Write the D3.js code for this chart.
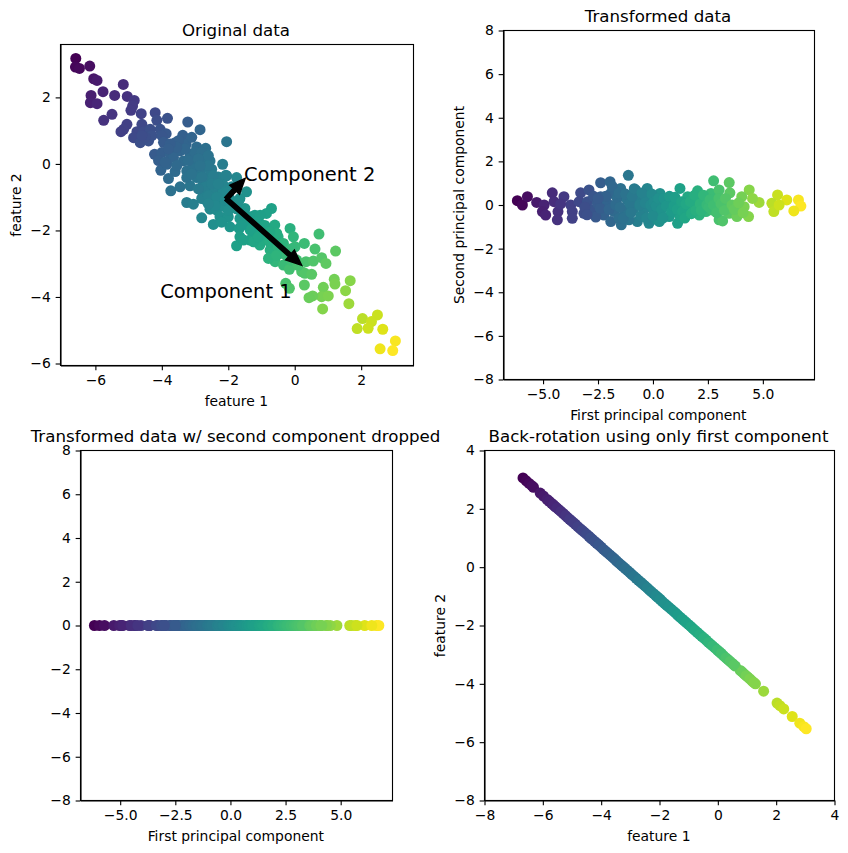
<!DOCTYPE html>
<html>
    <head>
        <meta charset="utf-8">
        <style>
body {
    margin: 0;
    background: #fff;
    font-family: "DejaVu Sans", sans-serif;
}
svg {
    display: block;
}
text {
    fill: #000;
}
.axis text {
    font-size: 13.89px;
    font-family: "DejaVu Sans", sans-serif;
}
.axis path, .axis line {
    stroke: #000;
    stroke-width: 1.11px;
}
.title {
    font-size: 16.67px;
}
.label {
    font-size: 13.89px;
}
.note {
    font-size: 19.44px;
}
        </style>
    </head>
    <body>
<script src="https://d3js.org/d3.v7.min.js"></script>
<script>

// original data
const feature1 = [
    -6.59,-6.60,-6.48,-6.17,-6.05,-5.95,-5.16,-5.77,-6.13,-5.42,-6.15,-5.95,-5.04,-4.83,-4.88,-4.93,
    -4.62,-4.20,-5.50,-5.75,-3.83,-4.15,-4.60,-5.05,-5.15,-5.23,-3.22,-2.85,-3.37,-4.05,-4.75,-4.55,
    -4.35,-3.87,-4.85,-4.65,-4.40,-2.05,-3.60,-3.27,-2.95,-2.68,-4.22,-4.00,-3.75,-3.45,-3.15,-2.75,
    -2.55,-2.17,-4.03,-3.60,-3.80,-3.25,-2.85,-2.50,-3.45,-3.73,-3.15,-2.75,-2.35,-2.05,-1.75,-3.25,
    -3.05,-2.55,-2.75,-2.25,-1.85,-2.65,-2.95,-3.85,-3.65,-3.35,-3.05,-3.25,-2.95,-2.45,-2.65,
    -2.55,-2.30,-2.07,-2.40,-2.15,-1.90,-2.75,-2.45,-2.15,-1.45,-1.65,-2.80,-2.50,-2.25,-2.35,-2.80,
    -2.45,-2.25,-2.00,-1.95,-1.67,-1.75,-1.65,-1.35,-1.20,-1.05,-0.70,-0.85,-0.60,-0.90,-1.05,-0.70,
    -1.35,-1.50,-1.20,-1.65,-0.50,-1.85,-2.10,
    0.73,1.23,0.61,0.29,-0.14,-0.04,0.01,-0.34,-0.54,-0.59,-0.34,-0.16,0.06,0.34,0.56,0.81,0.94,0.21,
    0.31,0.51,-0.27,-0.16,0.29,1.19,1.21,1.67,1.53,0.86,0.81,1.01,0.54,0.43,0.84,1.63,2.04,2.49,2.31,
    2.21,1.88,2.65,3.03,2.57,2.95,-1.44,-1.34,-1.04,-1.54,-1.24,-0.94,-0.74,-1.04,-0.44,-0.79,
    -3.50,-3.10,-3.00,-2.80,-2.60,-3.30,-3.55,-3.20,-2.90,-2.60,-2.85,-3.10,-2.80,-2.45,-2.70,-2.50,
    -2.30,-2.90,-2.60,-2.35,-2.05,-1.95,-1.70,-2.10,-2.40,-2.60,-2.00,-2.20,-1.75,-1.55,-1.40,-1.60,
    -1.15,-1.30,-1.10,-0.90,-0.75,-0.75,-0.50,-0.25,-0.55,-0.10,-0.10,0.10,-4.30,-4.50,-4.60,-4.00,
    -3.95,-3.75,-3.80,-4.10,-3.90,-3.55];
const feature2 = [
    3.17,2.91,2.87,2.94,2.56,2.51,2.39,2.17,2.06,2.06,1.84,1.81,2.03,1.91,1.74,1.61,
    1.51,1.54,1.49,1.31,1.37,1.31,1.19,1.19,1.04,0.97,1.26,1.03,0.86,1.04,0.97,0.97,
    1.04,0.91,0.79,0.64,0.69,0.67,0.64,0.59,0.51,0.47,0.29,0.34,0.29,0.39,0.29,0.14,
    0.09,-0.01,-0.19,-0.23,-0.44,-0.21,-0.21,-0.16,-0.69,-0.81,-0.66,-0.61,-0.61,-0.36,-0.41,-1.16,
    -1.21,-1.36,-0.91,-0.81,-0.71,-0.41,-0.01,-0.01,0.19,0.09,-0.11,-0.41,-0.41,-0.91,-1.11,
    -0.19,-0.39,-0.34,-0.59,-0.64,-0.69,-0.84,-0.84,-0.84,-0.84,-1.04,-1.04,-1.09,-1.19,-1.39,-1.62,
    -1.82,-1.59,-1.59,-1.89,-1.94,-2.46,-2.19,-2.29,-2.04,-1.79,-1.34,-1.49,-1.84,-2.09,-2.44,-2.54,
    -1.59,-1.34,-1.54,-1.64,-2.19,-1.19,-1.29,
    -2.11,-2.62,-2.56,-2.39,-1.94,-2.19,-2.49,-2.39,-2.09,-2.94,-3.04,-3.17,-2.89,-2.94,-2.92,-2.82,-2.99,-3.24,
    -3.29,-3.32,-3.59,-3.74,-3.64,-3.47,-3.61,-3.51,-3.81,-3.71,-3.99,-3.97,-3.97,-4.02,-4.36,-4.20,-4.65,-4.54,-4.74,
    -4.94,-4.95,-4.97,-5.32,-5.56,-5.61,-1.69,-1.99,-1.99,-2.29,-2.34,-2.29,-2.59,-1.54,-2.69,-2.84,
    0.70,0.80,0.35,0.35,0.25,0.45,0.50,0.10,0.15,-0.05,-0.05,-0.30,-0.40,-0.35,-0.70,-0.60,
    -0.60,-0.75,-0.95,-1.00,-0.85,-1.05,-1.15,-1.10,-1.25,-1.20,-1.40,-1.75,-1.35,-1.50,-1.75,-1.85,
    -1.75,-1.95,-2.20,-1.85,-2.05,-2.35,-2.50,-2.75,-2.75,-2.55,-2.90,-3.05,0.85,0.80,0.85,0.85,
    0.65,0.60,0.45,0.10,0.05,-0.05];

// transformed data
const component1 = [
    -6.17,-5.94,-5.71,-5.29,-4.95,-4.58,-5.03,-4.88,-4.32,-4.35,-4.05,-4.50,-3.74,-3.67,-3.67,-3.29,
    -2.91,-3.36,-2.98,-3.14,-2.76,-2.38,-1.95,-1.12,-2.38,-1.92,-1.47,-0.79,-0.26,-2.53,-2.08,-1.62,
    -1.17,-0.71,-0.26,0.12,-2.23,-1.77,-1.32,-0.86,-0.41,0.04,-1.92,-1.44,-0.71,-0.18,0.20,-1.54,-1.09,
    0.32,1.23,2.03,2.76,3.47,4.38,4.83,4.04,4.53,5.67,5.41,6.09,6.62,6.73,6.41,5.50,5.74,0.29,0.29,
    0.74,1.12,1.58,1.05,1.65,2.03,2.41,2.64,3.01,3.50,2.41,2.86,3.32,3.47,3.01,3.17,3.82,4.35,4.15,
    0.74,2.11,0.21,1.20,2.71,1.42,1.88,
    -3.10,-2.70,-2.60,-2.40,-2.15,-2.00,-1.85,-1.70,-1.55,-1.50,-1.35,-1.25,-1.05,-1.00,-0.95,-0.85,
    -0.60,-0.55,-0.50,-0.35,-0.30,-0.10,-0.05,0.00,0.05,0.15,0.25,0.40,0.45,0.50,0.60,0.75,0.85,0.95,
    1.00,1.10,1.30,1.35,1.45,1.50,1.70,1.75,1.90,1.95,2.15,2.20,2.30,2.45,2.55,2.60,2.75,2.90,3.00,
    3.10,3.25,3.30,3.60,3.70,3.90,4.10,-2.50,-3.00,-4.20];
const component2 = [
    0.20,0.00,0.38,0.12,0.00,0.56,-0.30,-0.46,-0.30,-0.68,0.38,0.15,0.00,-0.30,-0.61,0.56,
    0.69,0.15,0.15,-0.38,-0.23,1.02,1.07,1.36,0.38,0.53,0.76,0.69,0.76,0.08,0.08,0.30,
    0.23,0.30,0.30,0.38,-0.46,-0.30,-0.23,-0.15,-0.23,-0.23,-0.76,-0.91,-0.76,-0.84,-0.68,-0.61,-0.68,
    0.53,0.76,0.65,1.11,1.03,0.69,0.12,0.38,0.30,0.46,0.08,0.23,0.23,-0.05,-0.27,-0.30,0.00,0.08,-0.76,
    0.08,-0.84,0.38,0.08,-0.23,0.23,-0.30,0.53,0.69,0.56,0.23,0.15,0.00,-0.38,-0.68,-0.73,-0.53,-0.53,-0.08,
    -0.53,-0.46,-0.38,-0.46,-0.23,0.00,-0.08,
    -0.10,0.40,-0.55,-0.15,0.40,-0.20,0.85,0.00,0.55,-0.10,-0.60,0.50,0.05,-0.35,0.40,0.75,
    0.00,-0.50,0.55,0.10,-0.60,0.00,0.50,-0.50,0.15,-0.05,0.30,-0.20,-0.60,0.30,-0.05,0.40,-0.30,-0.05,
    0.35,-0.20,0.15,-0.30,-0.60,0.05,0.15,-0.40,0.45,-0.25,0.05,-0.25,0.45,0.00,-0.10,0.25,0.00,-0.35,0.30,
    0.05,-0.25,0.30,0.00,-0.20,0.10,-0.35,0.30,-0.45,0.05];

// back-rotated data
const backFeature1 = [
    -6.68,-6.57,-6.47,-6.37,-6.32,-6.09,-5.98,-5.85,-5.70,-5.58,-5.45,-5.30,-5.15,-5.02,-4.88,-4.72,
    -4.58,-4.42,-4.30,-4.15,-4.00,-3.85,-3.70,-3.55,-3.40,-3.25,-3.10,-2.95,-2.80,-2.65,-2.50,-2.35,
    -2.20,-2.05,-1.90,-1.75,-1.60,-1.45,-1.30,-1.15,-1.00,-0.85,-0.70,-0.55,-0.40,-0.25,-0.10,0.05,
    0.20,0.35,0.50,0.60,0.77,0.90,1.03,1.17,1.29,1.57,2.03,2.13,2.26,2.55,2.81,2.95,3.03,
    -5.78,-5.64,-5.52,-5.38,-5.22,-5.08,-4.95,-4.80,-4.65,-4.50,-4.36,-4.22,-4.08,-3.92,-3.78,-3.62,
    -3.48,-3.32,-3.18,-3.02,-2.88,-2.72,-2.58,-2.42,-2.28,-2.12,-1.98,-1.82,-1.68,-1.52,-1.38,-1.22,
    -1.08,-0.92,-0.78,-0.62,-0.48,-0.32,-0.18,-0.02,0.12,0.28,0.42,0.55,0.83,0.97,1.10,1.23];
const backFeature2 = [
    3.06,2.96,2.87,2.79,2.74,2.54,2.44,2.32,2.19,2.08,1.97,1.84,1.70,1.59,1.47,1.32,
    1.20,1.06,0.95,0.82,0.69,0.55,0.42,0.29,0.15,0.02,-0.11,-0.25,-0.38,-0.51,-0.64,-0.78,
    -0.91,-1.04,-1.18,-1.31,-1.44,-1.57,-1.71,-1.84,-1.97,-2.11,-2.24,-2.37,-2.50,-2.64,-2.77,-2.90,
    -3.04,-3.17,-3.30,-3.39,-3.54,-3.66,-3.77,-3.90,-4.00,-4.25,-4.66,-4.75,-4.86,-5.12,-5.35,-5.47,-5.54,
    2.26,2.14,2.03,1.91,1.77,1.64,1.53,1.39,1.26,1.13,1.00,0.88,0.76,0.61,0.49,0.35,
    0.22,0.08,-0.04,-0.18,-0.31,-0.45,-0.57,-0.71,-0.84,-0.98,-1.10,-1.25,-1.37,-1.51,-1.64,-1.78,
    -1.90,-2.04,-2.17,-2.31,-2.43,-2.58,-2.70,-2.84,-2.96,-3.11,-3.23,-3.35,-3.59,-3.72,-3.83,-3.95];

// arrow start and tips in the first panel
const arrowStart = [-2.06, -1.05];
const arrowTip1 = [0.21, -3.05];
const arrowTip2 = [-1.49, -0.43];

const ticksF1 = [-6, -4, -2, 0, 2];
const ticksF2 = [-6, -4, -2, 0, 2];
const ticksPc = [-5, -2.5, 0, 2.5, 5];
const ticksEight = [-8, -6, -4, -2, 0, 2, 4, 6, 8];
const ticksBack = [-8, -6, -4, -2, 0, 2, 4];

const width = 848, height = 853, radius = 5.5;

const svg = d3.select('body').append('svg')
    .attr('width', width)
    .attr('height', height);

const minus = s => String(s).replace('-', '\u2212');
const fmtInt = d => minus(d3.format('d')(d));
const fmtOne = d => minus(d3.format('.1f')(d));

// colour follows position along first component, as in the picture
const dir = [arrowTip1[0] - arrowStart[0], arrowTip1[1] - arrowStart[1]];
const dirLen = Math.hypot(dir[0], dir[1]);
const project = (a, b) => ((a - arrowStart[0]) * dir[0] + (b - arrowStart[1]) * dir[1]) / dirLen;

function panel(o) {
    const x = d3.scaleLinear().domain(o.xDomain).range([o.left, o.right]),
        y = d3.scaleLinear().domain(o.yDomain).range([o.bottom, o.top]);

    const g = svg.append('g');

    const color = d3.scaleSequential(d3.interpolateViridis).domain(d3.extent(o.c));
    g.append('g').selectAll('circle')
        .data(o.xs)
      .enter().append('circle')
        .attr('cx', d => x(d))
        .attr('cy', (d, i) => y(o.ys[i]))
        .attr('r', radius)
        .attr('fill', (d, i) => color(o.c[i]));

    g.append('g').attr('class', 'axis')
        .attr('transform', 'translate(0,' + o.bottom + ')')
        .call(d3.axisBottom(x).tickValues(o.xTicks).tickFormat(o.xFormat)
            .tickSize(4.86).tickPadding(4.86).tickSizeOuter(0));
    g.append('g').attr('class', 'axis')
        .attr('transform', 'translate(' + o.left + ',0)')
        .call(d3.axisLeft(y).tickValues(o.yTicks).tickFormat(fmtInt)
            .tickSize(4.86).tickPadding(4.86).tickSizeOuter(0));
    g.selectAll('.axis text').attr('font-family', null);

    g.append('rect')
        .attr('x', o.left).attr('y', o.top)
        .attr('width', o.right - o.left).attr('height', o.bottom - o.top)
        .attr('fill', 'none').attr('stroke', '#000').attr('stroke-width', 1.11);

    g.append('text').attr('class', 'title')
        .attr('x', (o.left + o.right) / 2 - 1).attr('y', o.top - 8.3)
        .attr('text-anchor', 'middle')
        .text(o.title);
    g.append('text').attr('class', 'label')
        .attr('x', (o.left + o.right) / 2 - 0.7).attr('y', o.bottom + 40)
        .attr('text-anchor', 'middle')
        .text(o.xLabel);
    if (o.yLabel) {
        g.append('text').attr('class', 'label')
            .attr('transform', 'translate(' + o.yLabelX + ',' + (o.top + o.bottom) / 2 + ') rotate(-90)')
            .attr('text-anchor', 'middle')
            .text(o.yLabel);
    }
    return {g: g, x: x, y: y};
}

const first = panel({
    left: 60.5, right: 413.5, top: 44.5, bottom: 365.5,
    xDomain: [-7.05, 3.575], yDomain: [-6.06, 3.59],
    xs: feature1, ys: feature2, c: feature1.map((d, i) => project(d, feature2[i])),
    xTicks: ticksF1, yTicks: ticksF2, xFormat: fmtInt,
    title: 'Original data', xLabel: 'feature 1', yLabel: 'feature 2', yLabelX: 21
});

function arrow(start, tip) {
    const dx = tip[0] - start[0], dy = tip[1] - start[1], len = Math.hypot(dx, dy),
        ux = dx / len, uy = dy / len, nx = -uy, ny = ux,
        w = 0.065, hw = 0.2, hl = 0.47,
        bx = tip[0] - ux * hl, by = tip[1] - uy * hl;
    const pts = [
        [start[0] + nx * w, start[1] + ny * w],
        [bx + nx * w, by + ny * w],
        [bx + nx * hw, by + ny * hw],
        tip,
        [bx - nx * hw, by - ny * hw],
        [bx - nx * w, by - ny * w],
        [start[0] - nx * w, start[1] - ny * w]
    ];
    first.g.append('polygon')
        .attr('points', pts.map(p => first.x(p[0]) + ',' + first.y(p[1])).join(' '))
        .attr('fill', '#000').attr('stroke', '#000').attr('stroke-width', 1.39);
}
arrow(arrowStart, arrowTip1);
arrow(arrowStart, arrowTip2);

first.g.append('text').attr('class', 'note')
    .attr('x', first.x(-4.05)).attr('y', first.y(-4.02))
    .text('Component 1');
first.g.append('text').attr('class', 'note')
    .attr('x', first.x(-1.53)).attr('y', first.y(-0.5))
    .text('Component 2');

panel({
    left: 503.5, right: 814.5, top: 30.5, bottom: 379.5,
    xDomain: [-6.8, 7.35], yDomain: [-8, 8],
    xs: component1, ys: component2, c: component1,
    xTicks: ticksPc, yTicks: ticksEight, xFormat: fmtOne,
    title: 'Transformed data', xLabel: 'First principal component',
    yLabel: 'Second principal component', yLabelX: 464
});

panel({
    left: 80.5, right: 392.5, top: 450.5, bottom: 800.5,
    xDomain: [-6.8, 7.35], yDomain: [-8, 8],
    xs: component1, ys: component1.map(() => 0), c: component1,
    xTicks: ticksPc, yTicks: ticksEight, xFormat: fmtOne,
    title: 'Transformed data w/ second component dropped', xLabel: 'First principal component'
});

panel({
    left: 484.5, right: 834.5, top: 450.5, bottom: 800.5,
    xDomain: [-8, 4], yDomain: [-8, 4],
    xs: backFeature1, ys: backFeature2, c: backFeature1,
    xTicks: ticksBack, yTicks: ticksBack, xFormat: fmtInt,
    title: 'Back-rotation using only first component', xLabel: 'feature 1',
    yLabel: 'feature 2', yLabelX: 445
});

</script>
    </body>
</html>
